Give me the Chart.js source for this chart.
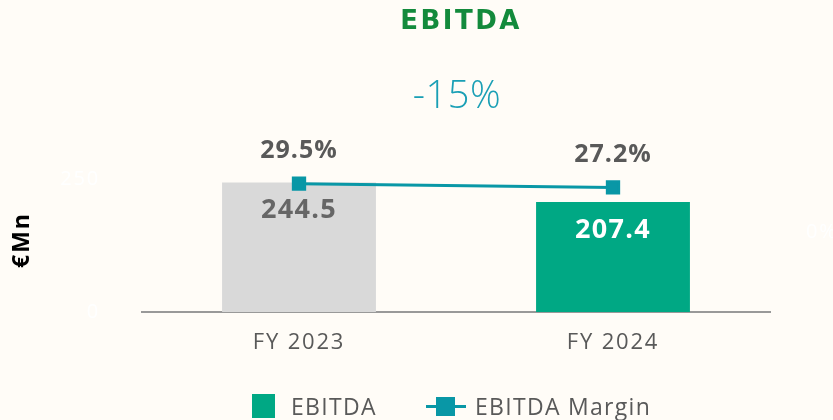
<!DOCTYPE html>
<html>
<head>
<meta charset="utf-8">
<script src="https://cdn.jsdelivr.net/npm/chart.js@4"></script>
<style>
  html, body { margin: 0; padding: 0; background: #fffcf7; }
  #wrap { position: relative; width: 833px; height: 420px; }
  #legend { position: absolute; top: 392px; left: 0; width: 833px; height: 28px;
    font: 23px "Open Sans", sans-serif; color: #595959; letter-spacing: 1.3px; }
  #legend span { position: absolute; top: 0; line-height: 28px; }
</style>
</head>
<body>
<div id="wrap">
  <canvas id="myChart" width="833" height="420"></canvas>
  <div id="legend">
    <i style="position:absolute;left:252px;top:2px;width:23px;height:24px;background:#00a884"></i>
    <span style="left:291px">EBITDA</span>
    <i style="position:absolute;left:426px;top:13px;width:40px;height:3px;background:#0997a6"></i>
    <i style="position:absolute;left:436px;top:5px;width:19px;height:19px;background:#0997a6"></i>
    <span style="left:475px">EBITDA Margin</span>
  </div>
</div>
<script>
'use strict';

const years = ['FY 2023', 'FY 2024'];
const ebitda = [244.5, 207.4];
const margin = [29.5, 27.2];
const barColors = ['#d9d9d9', '#00a884'];
const barLabelColors = ['#666666', '#ffffff'];
const change = '-15%';

const labelsPlugin = {
    id: 'labels',
    beforeDraw(chart) {
        // wider spacing for the tick labels (canvas state is reset on resize)
        chart.ctx.letterSpacing = '1.8px';
    },
    afterDatasetsDraw(chart) {
        const ctx = chart.ctx;
        const area = chart.chartArea;
        const mid = (area.left + area.right) / 2;
        ctx.save();
        ctx.textAlign = 'center';
        ctx.textBaseline = 'middle';

        ctx.fillStyle = '#138a3c';
        ctx.font = 'bold 26px "DejaVu Sans", sans-serif';
        ctx.letterSpacing = '2.5px';
        ctx.fillText('EBITDA', mid + 5, 22);

        ctx.fillStyle = '#1a9fb5';
        ctx.font = '300 38px "Open Sans", sans-serif';
        ctx.letterSpacing = '0.5px';
        ctx.fillText(change, mid + 1, 97);

        chart.getDatasetMeta(1).data.forEach((bar, i) => {
            ctx.fillStyle = barLabelColors[i];
            ctx.font = 'bold 27px "Open Sans", sans-serif';
            ctx.letterSpacing = '1.3px';
            ctx.fillText(ebitda[i].toFixed(1), bar.x, bar.y + 28);
        });
        chart.getDatasetMeta(0).data.forEach((pt, i) => {
            ctx.fillStyle = '#595959';
            ctx.font = 'bold 25px "Open Sans", sans-serif';
            ctx.letterSpacing = '1px';
            ctx.fillText(margin[i].toFixed(1) + '%', pt.x, pt.y - 33);
        });

        // y axis unit, rotated
        ctx.translate(22, 240);
        ctx.rotate(-Math.PI / 2);
        ctx.fillStyle = '#000000';
        ctx.font = 'bold 23px "Open Sans", sans-serif';
        ctx.letterSpacing = '2px';
        ctx.fillText('€Mn', 0, 0);
        ctx.restore();
    }
};

const ctx = document.getElementById('myChart').getContext('2d');

new Chart(ctx, {
    data: {
        labels: years,
        datasets: [
            {
                type: 'line',
                label: 'EBITDA Margin',
                data: margin,
                yAxisID: 'y1',
                borderColor: '#0997a6',
                backgroundColor: '#0997a6',
                borderWidth: 3,
                pointStyle: 'rect',
                pointRadius: 8,
                pointHoverRadius: 8,
                order: 0
            },
            {
                type: 'bar',
                label: 'EBITDA',
                data: ebitda,
                yAxisID: 'y',
                backgroundColor: barColors,
                categoryPercentage: 1,
                barPercentage: 0.49,
                order: 1
            }
        ]
    },
    options: {
        responsive: false,
        animation: false,
        layout: { padding: { top: 100, left: 0, right: 0, bottom: 0 } },
        plugins: {
            legend: { display: false },
            tooltip: { enabled: false }
        },
        scales: {
            x: {
                grid: { display: false },
                border: { color: '#999999', width: 2 },
                ticks: { color: '#595959', font: { size: 22, family: 'Open Sans' }, padding: 10 },
                afterFit(s) { s.height = 108; }
            },
            y: {
                position: 'left',
                min: 0,
                max: 400,
                grid: { display: false },
                border: { display: false },
                afterBuildTicks(s) { s.ticks = [{ value: 0 }, { value: 250 }]; },
                ticks: { color: '#ffffff', font: { size: 20, family: 'Open Sans' }, padding: 34 },
                afterFit(s) { s.width = 142; }
            },
            y1: {
                position: 'right',
                min: -48,
                max: 80,
                grid: { display: false },
                border: { display: false },
                afterBuildTicks(s) { s.ticks = [{ value: 0 }]; },
                ticks: { color: '#ffffff', font: { size: 20, family: 'Open Sans' }, padding: 28,
                    callback: v => v + '%' },
                afterFit(s) { s.width = 63; }
            }
        }
    },
    plugins: [labelsPlugin]
});
</script>
</body>
</html>
